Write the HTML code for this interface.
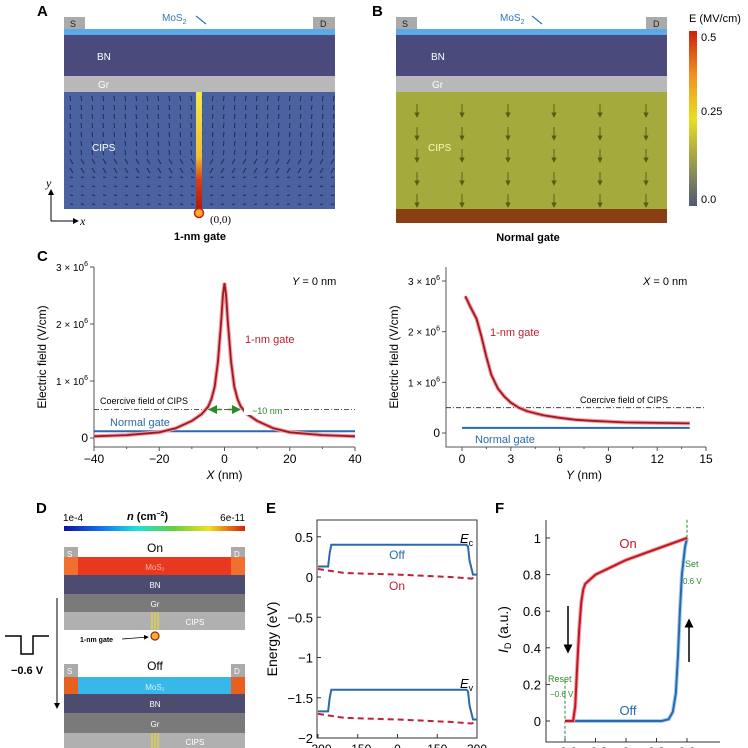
<!DOCTYPE html>
<html><head><meta charset="utf-8"><style>
html,body{margin:0;padding:0;background:#fff;}
svg{display:block;font-family:"Liberation Sans",Arial,sans-serif;}
</style></head><body>
<svg id="fig" width="748" height="748" viewBox="0 0 748 748" xmlns="http://www.w3.org/2000/svg">
<defs>
<linearGradient id="gateGrad" x1="0" y1="0" x2="0" y2="1">
<stop offset="0" stop-color="#f4e84a"/><stop offset="0.55" stop-color="#f0c030"/><stop offset="0.75" stop-color="#d84018"/><stop offset="1" stop-color="#b01808"/></linearGradient>
<linearGradient id="ecb" x1="0" y1="1" x2="0" y2="0">
<stop offset="0" stop-color="#50587a"/><stop offset="0.5" stop-color="#e8e020"/><stop offset="0.75" stop-color="#f09020"/><stop offset="1" stop-color="#d02010"/></linearGradient>
<linearGradient id="ncb" x1="0" y1="0" x2="1" y2="0">
<stop offset="0" stop-color="#10109a"/><stop offset="0.2" stop-color="#1070f0"/><stop offset="0.4" stop-color="#20e0e0"/><stop offset="0.6" stop-color="#60d040"/><stop offset="0.8" stop-color="#f0e020"/><stop offset="1" stop-color="#d02010"/></linearGradient>
<marker id="ah" markerWidth="6" markerHeight="6" refX="5" refY="3" orient="auto"><path d="M0,0 L6,3 L0,6 z" fill="#000"/></marker>
<marker id="ahg" markerWidth="6" markerHeight="6" refX="5" refY="3" orient="auto"><path d="M0,0 L6,3 L0,6 z" fill="#2a8a2a"/></marker>
<marker id="aho" markerWidth="6" markerHeight="6" refX="5" refY="3" orient="auto"><path d="M0,0 L6,3 L0,6 z" fill="#5a5a10"/></marker>
</defs>

<!-- Panel A -->
<g>
<text x="37" y="16" font-size="15" font-weight="bold">A</text>
<rect x="64" y="17" width="21" height="13" fill="#aaa"/>
<text x="70" y="27" font-size="9" fill="#222">S</text>
<rect x="313" y="17" width="22" height="13" fill="#aaa"/>
<text x="320" y="27" font-size="9" fill="#222">D</text>
<text x="162" y="21" font-size="10" fill="#2a78b8">MoS<tspan font-size="7" dy="3">2</tspan></text>
<line x1="196" y1="16" x2="206" y2="24" stroke="#2a78b8" stroke-width="1.2"/>
<rect x="64" y="29" width="271" height="6" fill="#5aaae8"/>
<rect x="64" y="35" width="271" height="41" fill="#4a4a7c"/>
<text x="97" y="60" font-size="10" fill="#fff">BN</text>
<rect x="64" y="76" width="271" height="16" fill="#b8b8b8"/>
<text x="98" y="88" font-size="10" fill="#fff">Gr</text>
<rect x="64" y="92" width="271" height="117" fill="#4a62a0"/>
<g id="vecA" stroke="#1e2a58" stroke-width="1"></g>
<text x="92" y="151" font-size="10" fill="#fff">CIPS</text>
<rect x="196" y="92" width="6" height="117" fill="url(#gateGrad)"/>
<circle cx="199" cy="213" r="4.5" fill="#f8b030" stroke="#c02010" stroke-width="1.5"/>
<text x="210" y="223" font-size="11" font-family="Liberation Serif,serif">(0,0)</text>
<text x="200" y="240" font-size="11" font-weight="bold" text-anchor="middle">1-nm gate</text>
<line x1="51" y1="221" x2="51" y2="190" stroke="#000" stroke-width="1" marker-end="url(#ah)"/>
<line x1="51" y1="221" x2="78" y2="221" stroke="#000" stroke-width="1" marker-end="url(#ah)"/>
<text x="46" y="187" font-size="12" font-style="italic" font-family="Liberation Serif,serif">y</text>
<text x="80" y="225" font-size="12" font-style="italic" font-family="Liberation Serif,serif">x</text>
</g>

<!-- Panel B -->
<g>
<text x="372" y="16" font-size="15" font-weight="bold">B</text>
<rect x="396" y="17" width="21" height="13" fill="#aaa"/>
<text x="402" y="27" font-size="9" fill="#222">S</text>
<rect x="646" y="17" width="21" height="13" fill="#aaa"/>
<text x="653" y="27" font-size="9" fill="#222">D</text>
<text x="500" y="21" font-size="10" fill="#2a78b8">MoS<tspan font-size="7" dy="3">2</tspan></text>
<line x1="532" y1="16" x2="542" y2="24" stroke="#2a78b8" stroke-width="1.2"/>
<rect x="396" y="29" width="271" height="6" fill="#5aaae8"/>
<rect x="396" y="35" width="271" height="41" fill="#4a4a7c"/>
<text x="431" y="60" font-size="10" fill="#fff">BN</text>
<rect x="396" y="76" width="271" height="16" fill="#b8b8b8"/>
<text x="432" y="88" font-size="10" fill="#fff">Gr</text>
<rect x="396" y="92" width="271" height="117" fill="#a4aa3c"/>
<g id="vecB"></g>
<text x="428" y="151" font-size="10" fill="#fff8b0">CIPS</text>
<rect x="396" y="209" width="271" height="14" fill="#8a3e14"/>
<text x="528" y="241" font-size="11" font-weight="bold" text-anchor="middle">Normal gate</text>
<text x="689" y="22" font-size="11">E (MV/cm)</text>
<rect x="689" y="31" width="8" height="175" fill="url(#ecb)"/>
<text x="701" y="41" font-size="11">0.5</text>
<text x="701" y="115" font-size="11">0.25</text>
<text x="701" y="203" font-size="11">0.0</text>
</g>

<!-- Panel C left -->
<g>
<text x="37" y="261" font-size="15" font-weight="bold">C</text>
<g id="cl"></g>
</g>
<g><g id="cr"></g></g>

<!-- Panel D -->
<g>
<text x="36" y="513" font-size="15" font-weight="bold">D</text>
<text x="63" y="521" font-size="10">1e-4</text>
<text x="127" y="520" font-size="11" font-weight="bold"><tspan font-style="italic">n</tspan> (cm<tspan font-size="7" dy="-4">−2</tspan><tspan dy="4">)</tspan></text>
<text x="245" y="521" font-size="10" text-anchor="end">6e-11</text>
<rect x="64" y="526" width="181" height="5" fill="url(#ncb)"/>
<text x="155" y="552" font-size="12" text-anchor="middle">On</text>
<rect x="64" y="547" width="14" height="12" fill="#aaa"/><text x="67" y="557" font-size="8" fill="#fff">S</text>
<rect x="231" y="547" width="14" height="12" fill="#aaa"/><text x="234" y="557" font-size="8" fill="#fff">D</text>
<rect x="64" y="557" width="181" height="18" fill="#e83820"/>
<rect x="64" y="557" width="14" height="18" fill="#f07030"/><rect x="231" y="557" width="14" height="18" fill="#f07030"/>
<text x="155" y="570" font-size="8" fill="#ffb0a0" text-anchor="middle">MoS₂</text>
<rect x="64" y="575" width="181" height="19" fill="#4c4c70"/><text x="155" y="588" font-size="8" fill="#fff" text-anchor="middle">BN</text>
<rect x="64" y="594" width="181" height="18" fill="#7a7a7a"/><text x="155" y="607" font-size="8" fill="#fff" text-anchor="middle">Gr</text>
<rect x="64" y="612" width="181" height="18" fill="#b0b0b0"/><text x="195" y="625" font-size="8" fill="#fff" text-anchor="middle">CIPS</text>
<g stroke="#f4e020" stroke-width="1"><line x1="152" y1="612" x2="152" y2="630"/><line x1="155" y1="612" x2="155" y2="630"/><line x1="158" y1="612" x2="158" y2="630"/></g>
<circle cx="155" cy="636" r="4" fill="#f8b030" stroke="#a02010" stroke-width="1.2"/>
<text x="80" y="642" font-size="7" font-weight="bold">1-nm gate</text>
<line x1="122" y1="639" x2="148" y2="637" stroke="#000" stroke-width="0.8" marker-end="url(#ah)"/>
<text x="155" y="670" font-size="12" text-anchor="middle">Off</text>
<rect x="64" y="664" width="14" height="13" fill="#aaa"/><text x="67" y="674" font-size="8" fill="#fff">S</text>
<rect x="231" y="664" width="14" height="13" fill="#aaa"/><text x="234" y="674" font-size="8" fill="#fff">D</text>
<rect x="64" y="677" width="181" height="17" fill="#38b8e8"/>
<rect x="64" y="677" width="14" height="17" fill="#e86020"/><rect x="231" y="677" width="14" height="17" fill="#e86020"/>
<text x="155" y="690" font-size="8" fill="#d0f0ff" text-anchor="middle">MoS₂</text>
<rect x="64" y="694" width="181" height="19" fill="#4c4c70"/><text x="155" y="707" font-size="8" fill="#fff" text-anchor="middle">BN</text>
<rect x="64" y="713" width="181" height="20" fill="#7a7a7a"/><text x="155" y="727" font-size="8" fill="#fff" text-anchor="middle">Gr</text>
<rect x="64" y="733" width="181" height="15" fill="#b0b0b0"/><text x="195" y="745" font-size="8" fill="#fff" text-anchor="middle">CIPS</text>
<g stroke="#f4e020" stroke-width="1"><line x1="152" y1="733" x2="152" y2="748"/><line x1="155" y1="733" x2="155" y2="748"/><line x1="158" y1="733" x2="158" y2="748"/></g>
<line x1="57" y1="598" x2="57" y2="708" stroke="#000" stroke-width="1" marker-end="url(#ah)"/>
<path d="M5,636 H21 V654 H33 V636 H49" fill="none" stroke="#000" stroke-width="1.5"/>
<text x="27" y="674" font-size="11" font-weight="bold" text-anchor="middle">−0.6 V</text>
</g>

<g>
<text x="266" y="513" font-size="15" font-weight="bold">E</text>
<g id="pe"></g>
</g>
<g>
<text x="495" y="513" font-size="15" font-weight="bold">F</text>
<g id="pf"></g>
</g>
</svg>
<script>
// ---- Panel C left data ----
const clX = [-40,-30,-20,-15,-10,-7,-5,-4,-3,-2,-1,-0.5,0,0.5,1,2,3,4,5,7,10,15,20,30,40];
const clE = [0.03,0.05,0.1,0.17,0.3,0.42,0.55,0.68,0.9,1.35,2.05,2.5,2.72,2.5,2.05,1.35,0.9,0.68,0.55,0.42,0.3,0.17,0.1,0.05,0.03];
const clNormal = [0.12,0.12];
const clNormalX = [-40,40];
const clCoercive = 0.5;
const clXTicks = [-40,-20,0,20,40];
const clYTicks = [0,1,2,3];
// ---- Panel C right data ----
const crY = [0.2,0.5,0.9,1.2,1.5,1.8,2.2,2.6,3,3.5,4,5,6,7,8,10,12,14];
const crE = [2.7,2.5,2.25,1.9,1.5,1.15,0.88,0.72,0.6,0.5,0.43,0.35,0.3,0.26,0.24,0.21,0.2,0.19];
const crNormal = [0.1,0.1];
const crNormalX = [0,14];
const crCoercive = 0.5;
const crXTicks = [0,3,6,9,12,15];
const crYTicks = [0,1,2,3];
// ---- Panel E data ----
const eX = [-300,-262,-256,-250,260,266,272,285,300];
const eEcOff = [0.13,0.13,0.3,0.4,0.4,0.38,0.2,0.03,0.03];
const eEvOff = [-1.67,-1.67,-1.5,-1.4,-1.4,-1.42,-1.6,-1.77,-1.77];
const eXOn = [-300,-260,-200,0,200,280,300];
const eEcOn = [0.1,0.08,0.05,0.03,0.0,-0.02,0.01];
const eEvOn = [-1.7,-1.72,-1.75,-1.77,-1.8,-1.82,-1.79];
const eXTicks = [-300,-150,0,150,300];
const eYTicks = [0.5,0,-0.5,-1,-1.5,-2];
const eYTickLabels = ["0.5","0","−0.5","−1","−1.5","−2"];
// ---- Panel F data ----
const fOnV = [-0.6,-0.52,-0.5,-0.48,-0.46,-0.44,-0.42,-0.4,-0.3,-0.15,0,0.15,0.3,0.45,0.6];
const fOnI = [0,0,0.08,0.3,0.5,0.65,0.72,0.75,0.8,0.84,0.88,0.91,0.94,0.97,1.0];
const fOffV = [-0.52,0,0.35,0.42,0.46,0.49,0.51,0.53,0.55,0.58,0.6];
const fOffI = [0,0,0,0.01,0.05,0.15,0.35,0.6,0.8,0.95,1.0];
const fYTicks = [0,0.2,0.4,0.6,0.8,1];
const fYTickLabels = ["0","0.2","0.4","0.6","0.8","1"];
const fXTicks = [-0.6,-0.3,0,0.3,0.6];

const NS="http://www.w3.org/2000/svg";
function mk(parent,tag,attrs,txt){const e=document.createElementNS(NS,tag);for(const k in attrs)e.setAttribute(k,attrs[k]);if(txt!==undefined)e.textContent=txt;parent.appendChild(e);return e;}
function lin(d0,d1,r0,r1){return v=>r0+(v-d0)/(d1-d0)*(r1-r0);}
function pathOf(xs,ys,sx,sy){return xs.map((v,i)=>(i?"L":"M")+sx(v).toFixed(1)+","+sy(ys[i]).toFixed(1)).join("");}

// vector field A
(function(){const g=document.getElementById('vecA');
for(let cx=70;cx<335;cx+=11){for(let cy=96;cy<208;cy+=9){const dx=cx-199;const L=5;
const l=mk(g,'line',{x1:cx,y1:cy,x2:(cx+Math.sign(-dx)*L*0.6*(cy>150?1:0.2)).toFixed(1),y2:(cy+(cy<170?L:0.5)).toFixed(1)});

}}})();
// vector field B
(function(){const g=document.getElementById('vecB');
const cols=[417,462,508,554,600,646];const rows=[104,127,149,172,194];
cols.forEach(x=>rows.forEach(y=>{const l=mk(g,'line',{x1:x,y1:y,x2:x,y2:y+13,stroke:'#5a5a10','stroke-width':0.9,'marker-end':'url(#aho)'});

}));})();

function fieldChart(gid,L,R,T,B,x0,x1,y0px,y3px,xs,ys,nx,ny,coer,xt,yt,opts){
 const g=document.getElementById(gid);
 const sx=lin(x0,x1,opts.xl,opts.xr), sy=lin(0,3,y0px,y3px);
 mk(g,'polyline',{points:`${L},${T} ${L},${B} ${R},${B}`,fill:'none',stroke:'#555','stroke-width':1});
 xt.forEach(v=>{mk(g,'line',{x1:sx(v),y1:B,x2:sx(v),y2:B+4,stroke:'#555'});
  const t=mk(g,'text',{x:sx(v),y:B+16,'font-size':12,'text-anchor':'middle'},v<0?'−'+(-v):String(v));
  });
 for(let i=0;i<xt.length-1;i++){const m=(xt[i]+xt[i+1])/2;mk(g,'line',{x1:sx(m),y1:B,x2:sx(m),y2:B+2,stroke:'#555'});}
 yt.forEach(v=>{mk(g,'line',{x1:L-4,y1:sy(v),x2:L,y2:sy(v),stroke:'#555'});
  const t=mk(g,'text',{x:L-6,y:sy(v)+4,'font-size':v?10:12,'text-anchor':'end'});
  if(v){t.innerHTML=v+' × 10<tspan font-size="7" dy="-5">6</tspan>';}else t.textContent='0';
  });
 const yl=mk(g,'text',{x:0,y:0,'font-size':12,'text-anchor':'middle',transform:`translate(${L-48},${(T+B)/2}) rotate(-90)`},'Electric field (V/cm)');
 
 const xl=mk(g,'text',{x:(opts.xl+opts.xr)/2,y:B+32,'font-size':12,'text-anchor':'middle'});
 xl.innerHTML='<tspan font-style="italic">'+opts.xv+'</tspan> (nm)';
 
 const cl=mk(g,'line',{x1:L,y1:sy(coer),x2:R,y2:sy(coer),stroke:'#222','stroke-width':0.8,'stroke-dasharray':'5,2,1,2'});
 
 const nl=mk(g,'path',{d:pathOf(opts.nxs,ny,sx,sy),stroke:'#2a6aa8','stroke-width':2,fill:'none'});
 
 mk(g,'path',{d:pathOf(xs,ys,sx,sy),stroke:'#f4a0a0','stroke-width':4,fill:'none'});
 const gl=mk(g,'path',{d:pathOf(xs,ys,sx,sy),stroke:'#a01828','stroke-width':1.8,fill:'none'});
 
 return {sx,sy,g};
}
const c1=fieldChart('cl',94,355,267,447,-40,40,438,267,clX,clE,clNormalX,clNormal,clCoercive,clXTicks,clYTicks,{xl:94,xr:355,xv:'X',nxs:clNormalX});
mk(c1.g,'text',{x:292,y:285,'font-size':11},'').innerHTML='<tspan font-style="italic">Y</tspan> = 0 nm';
mk(c1.g,'text',{x:245,y:343,'font-size':11,fill:'#c02030'},'1-nm gate');
mk(c1.g,'text',{x:100,y:404,'font-size':9},'Coercive field of CIPS');
mk(c1.g,'text',{x:110,y:426,'font-size':11,fill:'#2a6aa8'},'Normal gate');
mk(c1.g,'rect',{x:244,y:405,width:40,height:10,fill:'#fff'});
mk(c1.g,'text',{x:252,y:414,'font-size':9,fill:'#2a8a2a'},'~10 nm');
mk(c1.g,'line',{x1:c1.sx(-1),y1:c1.sy(0.5),x2:c1.sx(-4.6),y2:c1.sy(0.5),stroke:'#2a8a2a','stroke-width':1.5,'marker-end':'url(#ahg)'});
mk(c1.g,'line',{x1:c1.sx(1),y1:c1.sy(0.5),x2:c1.sx(4.6),y2:c1.sy(0.5),stroke:'#2a8a2a','stroke-width':1.5,'marker-end':'url(#ahg)'});
const c2=fieldChart('cr',446,706,267,447,0,15,433,281,crY,crE,crNormalX,crNormal,crCoercive,crXTicks,crYTicks,{xl:462,xr:706,xv:'Y',nxs:crNormalX});
mk(c2.g,'text',{x:643,y:285,'font-size':11},'').innerHTML='<tspan font-style="italic">X</tspan> = 0 nm';
mk(c2.g,'text',{x:490,y:336,'font-size':11,fill:'#c02030'},'1-nm gate');
mk(c2.g,'text',{x:580,y:403,'font-size':9},'Coercive field of CIPS');
mk(c2.g,'text',{x:475,y:443,'font-size':11,fill:'#2a6aa8'},'Normal gate');

// Panel E
(function(){const g=document.getElementById('pe');const L=317,R=477,T=520,B=738;
 const sx=lin(-300,300,318,477), sy=lin(0,-2,577,738);
 mk(g,'rect',{x:L,y:T,width:R-L,height:B-T,fill:'none',stroke:'#333'});
 eYTicks.forEach((v,i)=>{mk(g,'line',{x1:L,y1:sy(v),x2:L+4,y2:sy(v),stroke:'#333'});
  const t=mk(g,'text',{x:L-4,y:sy(v)+5,'font-size':13,'text-anchor':'end'},eYTickLabels[i]);
  });
 eXTicks.forEach(v=>{mk(g,'line',{x1:sx(v),y1:B,x2:sx(v),y2:B-4,stroke:'#333'});
  const t=mk(g,'text',{x:sx(v),y:B+15,'font-size':12,'text-anchor':'middle'},v<0?'−'+(-v):String(v));
  });
 const yl=mk(g,'text',{x:0,y:0,'font-size':14,'text-anchor':'middle',transform:`translate(277,${(T+B)/2+10}) rotate(-90)`},'Energy (eV)');
 
 [[eEcOff,'ec-off-line'],[eEvOff,'ev-off-line']].forEach(([d,n])=>{const p=mk(g,'path',{d:pathOf(eX,d,sx,sy),stroke:'#2a6aa8','stroke-width':2,fill:'none'});
  });
 [[eEcOn,'ec-on-line'],[eEvOn,'ev-on-line']].forEach(([d,n])=>{const p=mk(g,'path',{d:pathOf(eXOn,d,sx,sy),stroke:'#c02038','stroke-width':2,fill:'none','stroke-dasharray':'6,4'});
  });
 mk(g,'text',{x:397,y:559,'font-size':12,fill:'#2a6aa8','text-anchor':'middle'},'Off');
 mk(g,'text',{x:397,y:590,'font-size':12,fill:'#c02038','text-anchor':'middle'},'On');
 mk(g,'text',{x:460,y:543,'font-size':13,'font-style':'italic'}).innerHTML='E<tspan font-size="9" dy="3" font-style="normal">c</tspan>';
 mk(g,'text',{x:460,y:688,'font-size':13,'font-style':'italic'}).innerHTML='E<tspan font-size="9" dy="3" font-style="normal">v</tspan>';
})();

// Panel F
(function(){const g=document.getElementById('pf');const L=546,T=520,B=742;
 const sx=lin(-0.6,0.6,565,687), sy=lin(0,1,721,538);
 mk(g,'polyline',{points:`${L},${T} ${L},${B} 720,${B}`,fill:'none',stroke:'#333'});
 fYTicks.forEach((v,i)=>{mk(g,'line',{x1:L,y1:sy(v),x2:L+4,y2:sy(v),stroke:'#333'});
  const t=mk(g,'text',{x:L-5,y:sy(v)+5,'font-size':13,'text-anchor':'end'},fYTickLabels[i]);
  });
 fXTicks.forEach(v=>{mk(g,'line',{x1:sx(v),y1:B,x2:sx(v),y2:B-4,stroke:'#333'});
  const t=mk(g,'text',{x:sx(v),y:B+14,'font-size':12,'text-anchor':'middle'},v<0?'−'+(-v):String(v));
  });
 const yl=mk(g,'text',{x:0,y:0,'font-size':14,'text-anchor':'middle',transform:`translate(508,${sy(0.5)}) rotate(-90)`});
 yl.innerHTML='<tspan font-style="italic">I</tspan><tspan font-size="9" dy="3">D</tspan><tspan dy="-3"> (a.u.)</tspan>';
 
 mk(g,'line',{x1:sx(-0.6),y1:sy(0.22),x2:sx(-0.6),y2:B,stroke:'#2a8a2a','stroke-dasharray':'3,2'});
 mk(g,'line',{x1:sx(0.6),y1:sy(1.1),x2:sx(0.6),y2:sy(0.97),stroke:'#2a8a2a','stroke-dasharray':'3,2'});
 mk(g,'text',{x:548,y:682,'font-size':9,fill:'#2a8a2a'},'Reset');
 mk(g,'text',{x:550,y:697,'font-size':8,fill:'#2a8a2a'},'−0.6 V');
 mk(g,'text',{x:685,y:567,'font-size':9,fill:'#2a8a2a'},'Set');
 mk(g,'text',{x:683,y:584,'font-size':8,fill:'#2a8a2a'},'0.6 V');
 mk(g,'path',{d:pathOf(fOffV,fOffI,sx,sy),stroke:'#a8d0f0','stroke-width':4,fill:'none'});
 const off=mk(g,'path',{d:pathOf(fOffV,fOffI,sx,sy),stroke:'#2a6aa8','stroke-width':2,fill:'none'});
 
 mk(g,'path',{d:pathOf(fOnV,fOnI,sx,sy),stroke:'#f4a0a0','stroke-width':4,fill:'none'});
 const on=mk(g,'path',{d:pathOf(fOnV,fOnI,sx,sy),stroke:'#c01828','stroke-width':2,fill:'none'});
 
 mk(g,'text',{x:628,y:548,'font-size':13,fill:'#c01828','text-anchor':'middle'},'On');
 mk(g,'text',{x:628,y:715,'font-size':13,fill:'#2a6aa8','text-anchor':'middle'},'Off');
 mk(g,'line',{x1:568,y1:606,x2:568,y2:652,stroke:'#000','stroke-width':1.5,'marker-end':'url(#ah)'});
 mk(g,'line',{x1:689,y1:662,x2:689,y2:620,stroke:'#000','stroke-width':1.5,'marker-end':'url(#ah)'});
})();
</script>
</body></html>
